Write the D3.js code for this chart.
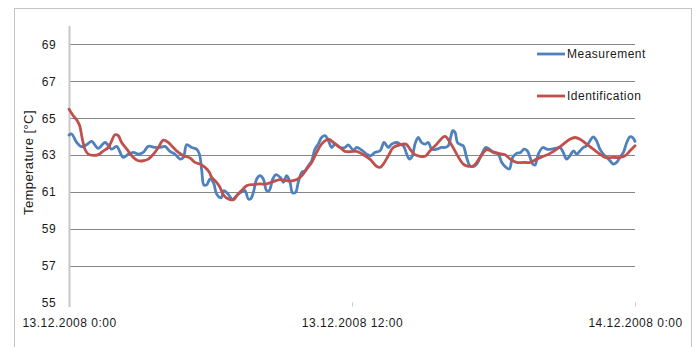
<!DOCTYPE html>
<html><head><meta charset="utf-8">
<script src="https://cdn.jsdelivr.net/npm/d3@7"></script>
<style>
html,body{margin:0;padding:0;background:#fff;}
text{font-family:"Liberation Sans",Arial,sans-serif;fill:#1a1a1a;}
</style></head>
<body>
<svg id="chart" width="700" height="347"></svg>
<script>
// ---- data (hours since 13.12.2008 0:00, °C) ----
const seriesNames = ["Measurement", "Identification"];
const xTickValues = [0, 12, 24];
const xTickLabels = ["13.12.2008 0:00", "13.12.2008 12:00", "14.12.2008 0:00"];
const yTickValues = [55, 57, 59, 61, 63, 65, 67, 69];

const measTime = [0.00,0.11,0.33,0.54,0.78,0.96,1.24,1.53,1.81,2.02,2.30,2.52,2.73,2.94,3.15,3.36,3.65,3.86,4.07,4.28,4.49,4.71,4.85,4.99,5.20,5.41,5.53,5.63,5.72,5.84,5.98,6.12,6.26,6.45,6.57,6.76,6.93,7.11,7.25,7.46,7.60,7.70,7.82,7.96,8.10,8.24,8.38,8.49,8.64,8.78,8.95,9.09,9.23,9.37,9.48,9.61,9.72,9.87,10.01,10.15,10.29,10.43,10.57,10.71,10.86,11.00,11.14,11.28,11.49,11.70,11.84,
12.06,12.20,12.41,12.62,12.79,12.97,13.19,13.36,13.54,13.68,13.90,14.04,14.18,14.32,14.43,14.56,14.67,14.81,14.95,15.10,15.24,15.38,15.59,15.80,15.94,16.08,16.20,16.27,16.37,16.47,16.61,16.72,16.86,17.00,17.14,17.29,17.50,17.68,17.85,17.99,18.20,18.35,18.53,18.67,18.81,18.98,19.15,19.29,19.43,19.55,19.66,19.76,19.90,20.09,20.26,20.47,20.68,20.82,20.96,21.10,21.24,21.39,21.53,21.67,21.81,21.95,22.09,22.23,22.37,22.51,22.66,22.80,22.94,23.08,23.22,23.36,23.51,23.65,23.79,23.90,24.00];
const measValue = [64.08,64.14,63.68,63.45,63.59,63.74,63.36,63.68,63.32,63.47,62.87,63.05,63.14,63.05,63.14,63.47,63.41,63.41,63.47,63.20,63.05,62.78,62.87,63.56,63.41,63.32,63.05,62.15,61.38,61.38,61.70,61.52,60.89,60.68,61.07,60.86,60.59,60.80,60.95,61.07,60.62,60.62,60.98,61.70,61.88,61.70,61.07,61.07,61.70,61.94,61.79,61.52,61.88,61.52,60.95,60.98,61.52,62.06,62.15,62.42,62.69,63.32,63.59,63.95,64.05,63.77,63.41,63.59,63.41,63.41,63.55,
63.27,63.41,63.27,63.05,62.96,63.14,63.23,63.68,63.41,63.59,63.68,63.59,63.50,63.05,62.78,62.96,63.59,63.95,63.68,63.59,63.68,63.32,63.32,63.41,63.41,63.50,64.05,64.32,64.23,63.68,63.56,63.50,62.87,62.42,62.37,62.51,63.05,63.41,63.29,63.14,63.05,62.60,62.33,62.24,62.87,63.09,63.14,63.32,63.23,62.87,62.51,62.46,63.05,63.41,63.32,63.32,63.38,63.41,63.14,62.78,62.96,63.23,63.05,63.23,63.41,63.50,63.77,63.99,63.77,63.32,63.05,62.87,62.69,62.51,62.60,62.87,63.14,63.68,63.99,63.95,63.74];

const identTime = [0.00,0.18,0.33,0.45,0.56,0.68,0.82,1.03,1.24,1.46,1.67,1.81,1.95,2.09,2.23,2.45,2.73,2.94,3.15,3.36,3.58,3.79,4.00,4.21,4.42,4.64,4.85,5.13,5.34,5.55,5.77,5.95,6.05,6.26,6.40,6.57,6.76,6.97,7.14,7.32,7.53,7.82,8.10,8.38,8.66,8.95,9.23,9.51,9.80,10.08,10.29,10.50,10.71,11.00,11.21,11.49,11.70,11.92,
12.20,12.48,12.76,13.04,13.19,13.33,13.54,13.75,14.04,14.29,14.46,14.67,14.88,15.10,15.31,15.59,15.94,16.16,16.44,16.72,16.94,17.16,17.43,17.71,17.92,18.21,18.49,18.71,18.98,19.27,19.55,19.83,20.11,20.40,20.68,20.96,21.24,21.46,21.67,21.95,22.23,22.51,22.73,23.08,23.36,23.58,23.79,24.00];
const identValue = [65.49,65.13,64.90,64.60,63.90,63.30,63.05,62.98,63.02,63.23,63.41,63.77,64.10,64.05,63.68,63.32,62.87,62.69,62.69,62.78,63.05,63.41,63.81,63.68,63.41,63.14,62.96,62.84,62.60,62.51,62.33,62.06,61.79,61.52,61.25,60.80,60.62,60.57,60.84,61.07,61.34,61.40,61.43,61.43,61.56,61.67,61.61,61.61,61.79,62.24,62.60,63.14,63.59,63.86,63.68,63.41,63.20,63.18,
63.20,63.02,62.78,62.39,62.33,62.51,62.96,63.41,63.56,63.59,63.32,63.02,62.93,62.93,63.23,63.59,64.01,63.68,63.05,62.51,62.39,62.42,62.87,63.29,63.20,63.09,63.02,62.78,62.60,62.60,62.60,62.78,62.93,63.09,63.32,63.59,63.86,63.95,63.86,63.59,63.32,63.05,62.87,62.87,62.87,62.96,63.23,63.50];

const colors = ["#4F81BD", "#C0504D"];

// ---- drawing ----
const svg = d3.select("#chart");
svg.append("rect").attr("x",14.5).attr("y",8.5).attr("width",677).attr("height",345)
  .attr("fill","#fff").attr("stroke","#c4c4c4").attr("stroke-width",1);

const x = d3.scaleLinear().domain([0,24]).range([69,635]);
const y = d3.scaleLinear().domain([55,70]).range([302.5,26]);

// gridlines
svg.append("g").selectAll("line").data(yTickValues.filter(v => v !== 55)).join("line")
  .attr("x1", x(0)).attr("x2", x(24))
  .attr("y1", d => Math.round(y(d)) + 0.5).attr("y2", d => Math.round(y(d)) + 0.5)
  .attr("stroke", "#868686").attr("stroke-width", 1);

// left axis line
svg.append("line").attr("x1",69.5).attr("x2",69.5).attr("y1",y(70)).attr("y2",y(55)+4.5)
  .attr("stroke","#c8c8c8").attr("stroke-width",2);

// y axis labels
const yAxis = svg.append("g").attr("transform","translate(69,0)")
  .call(d3.axisLeft(y).tickValues(yTickValues).tickSize(0).tickPadding(13));
yAxis.select(".domain").remove();
yAxis.selectAll("text").attr("font-size",12).style("letter-spacing","0.4px")
  .attr("font-family","Liberation Sans, Arial, sans-serif").attr("fill","#1a1a1a");

// x axis
const xAxis = svg.append("g").attr("transform",`translate(0,${y(55)})`)
  .call(d3.axisBottom(x).tickValues(xTickValues).tickFormat((d,i) => xTickLabels[i]).tickSize(4).tickPadding(12));
xAxis.select(".domain").remove();
xAxis.selectAll("line").attr("stroke","#c8c8c8");
xAxis.selectAll("text").attr("font-size",12).style("letter-spacing","0.5px")
  .attr("font-family","Liberation Sans, Arial, sans-serif").attr("fill","#1a1a1a");

// y title
svg.append("text").attr("transform","translate(28,162.5) rotate(-90)")
  .attr("text-anchor","middle").attr("dominant-baseline","central")
  .attr("font-size",13).style("letter-spacing","0.4px").text("Temperature [°C]");

// lines
const line = d3.line().x(d => x(d[0])).y(d => y(d[1])).curve(d3.curveCatmullRom.alpha(0.5));
const series = [
  measTime.map((t,i) => [t, measValue[i]]),
  identTime.map((t,i) => [t, identValue[i]])
];
series.forEach((s,i) => {
  svg.append("path").datum(s).attr("d", line).attr("fill","none")
    .attr("stroke", colors[i]).attr("stroke-width", 2.8)
    .attr("stroke-linejoin","round").attr("stroke-linecap","round");
});

// legend
const legY = [54, 96];
const leg = svg.append("g");
seriesNames.forEach((n,i) => {
  leg.append("line").attr("x1",537).attr("x2",565).attr("y1",legY[i]).attr("y2",legY[i])
    .attr("stroke",colors[i]).attr("stroke-width",2.8);
  leg.append("text").attr("x",567).attr("y",legY[i]).attr("dominant-baseline","central")
    .attr("font-size",12).style("letter-spacing","0.5px").text(n);
});
</script>
</body></html>
